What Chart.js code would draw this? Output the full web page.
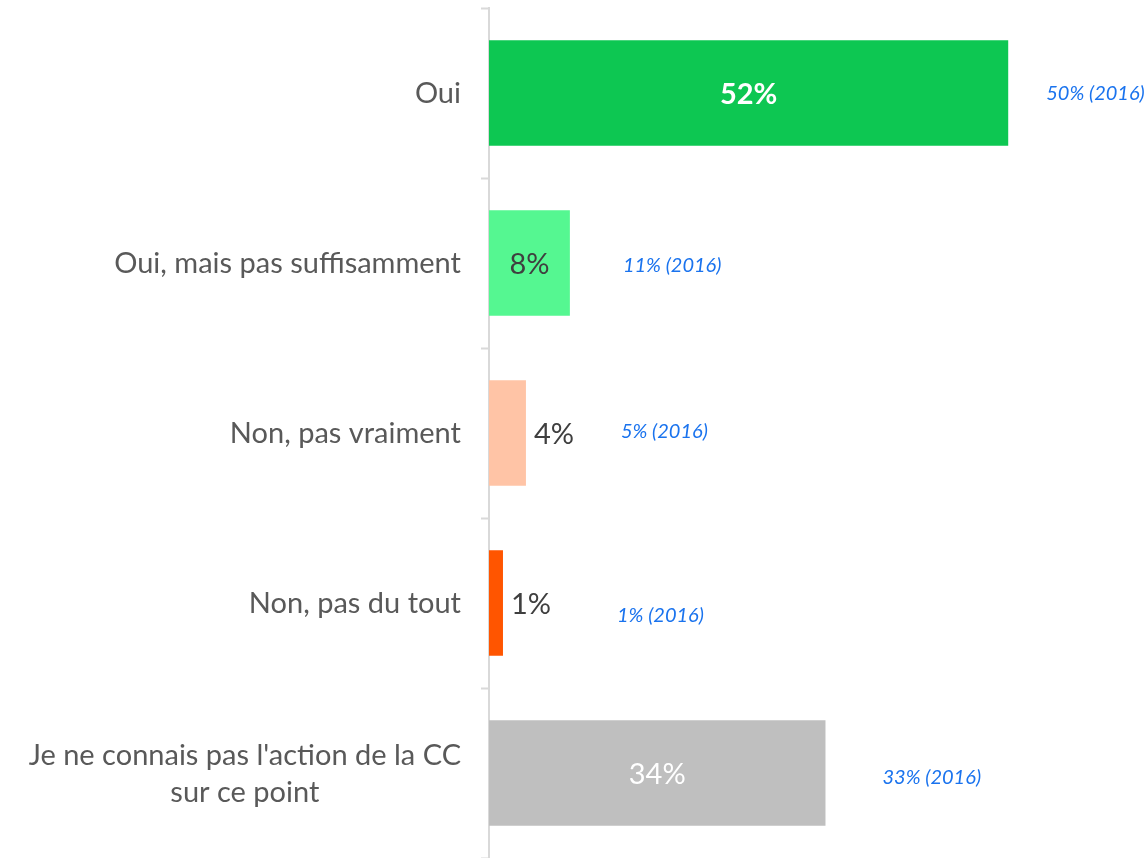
<!DOCTYPE html>
<html>
<head>
<meta charset="utf-8">
<script src="https://cdn.jsdelivr.net/npm/chart.js@4.4.1/dist/chart.umd.min.js"></script>
<style>
  html, body { margin: 0; padding: 0; background: #ffffff; }
  #wrap { width: 1148px; height: 858px; position: relative; }
</style>
</head>
<body>
<div id="wrap"><canvas id="myChart"></canvas></div>
<script>
// Données
const categories = [
  "Oui",
  "Oui, mais pas suffisamment",
  "Non, pas vraiment",
  "Non, pas du tout",
  ["Je ne connais pas l'action de la CC", "sur ce point"]
];
// longueurs des barres
const values = [52, 8.1, 3.7, 1.4, 33.7];
const valueLabels = ["52%", "8%", "4%", "1%", "34%"];
const previousLabels = ["50% (2016)", "11% (2016)", "5% (2016)", "1% (2016)", "33% (2016)"];

// Styles
const barColors = ["#0DC752", "#55F791", "#FFC4A6", "#FF5500", "#BFBFBF"];
const labelColors = ["#ffffff", "#3f3f3f", "#3f3f3f", "#3f3f3f", "#ffffff"];
const labelWeights = ["bold", "normal", "normal", "normal", "normal"];
const labelInside = [true, true, false, false, true];
// décalage des annotations 2016 par rapport au bout de la barre
const noteDx = [38, 53, 95, 114, 57];
const noteDy = [1, 3, -1, 13, 5];

// Plugin pour écrire les catégories, les valeurs et les annotations
const labelsPlugin = {
  id: 'labelsPlugin',
  afterDatasetsDraw(chart) {
    const ctx = chart.ctx;
    const yScale = chart.scales.y;
    const right = chart.chartArea.left - 28;

    // Libellés des catégories (lignes centrées entre elles, bloc aligné à droite)
    ctx.save();
    ctx.font = '29px Lato';
    ctx.fillStyle = '#595959';
    ctx.textBaseline = 'middle';
    categories.forEach((cat, i) => {
      const y = yScale.getPixelForTick(i) + 1;
      const lines = Array.isArray(cat) ? cat : [cat];
      const maxW = Math.max(...lines.map(l => ctx.measureText(l).width));
      const lh = 37;
      lines.forEach((line, j) => {
        const ly = y + (j - (lines.length - 1) / 2) * lh;
        if (lines.length > 1) {
          ctx.textAlign = 'center';
          ctx.fillText(line, right - maxW / 2, ly);
        } else {
          ctx.textAlign = 'right';
          ctx.fillText(line, right, ly);
        }
      });
    });
    ctx.restore();

    const meta = chart.getDatasetMeta(0);
    meta.data.forEach((bar, i) => {
      ctx.save();
      ctx.textBaseline = 'middle';
      ctx.font = labelWeights[i] + ' 29px Lato';
      ctx.fillStyle = labelColors[i];
      if (labelInside[i]) {
        ctx.textAlign = 'center';
        ctx.fillText(valueLabels[i], (bar.x + bar.base) / 2, bar.y + 2);
      } else {
        ctx.textAlign = 'left';
        ctx.fillText(valueLabels[i], bar.x + 8, bar.y + 2);
      }
      ctx.font = 'italic 20px Lato';
      ctx.fillStyle = '#1A73EE';
      ctx.textAlign = 'left';
      ctx.fillText(previousLabels[i], bar.x + noteDx[i], bar.y + noteDy[i]);
      ctx.restore();
    });
  }
};

let chart = null;

function createChart() {
  const ctx = document.getElementById('myChart').getContext('2d');
  if (chart) chart.destroy();

  chart = new Chart(ctx, {
    type: 'bar',
    data: {
      labels: categories,
      datasets: [{
        data: values,
        backgroundColor: barColors,
        borderWidth: 0,
        categoryPercentage: 1,
        barPercentage: 0.62
      }]
    },
    options: {
      indexAxis: 'y',
      responsive: true,
      maintainAspectRatio: false,
      animation: false,
      layout: { padding: { top: 8, bottom: 0, left: 0, right: 0 } },
      plugins: {
        legend: { display: false },
        tooltip: { enabled: false }
      },
      scales: {
        x: {
          display: false,
          min: 0,
          max: 66
        },
        y: {
          afterFit(scale) {
            scale.width = 489;
            scale.paddingTop = 0;
            scale.paddingBottom = 0;
          },
          border: { display: true, color: '#D9D9D9', width: 2 },
          grid: {
            offset: true,
            drawOnChartArea: false,
            drawTicks: true,
            tickLength: 8,
            tickWidth: 2,
            color: '#D9D9D9'
          },
          ticks: {
            // libellés dessinés par le plugin
            callback: () => '',
            padding: 19,
            font: { family: 'Lato', size: 29 }
          }
        }
      }
    },
    plugins: [labelsPlugin]
  });
}

document.addEventListener('DOMContentLoaded', createChart);
</script>
</body>
</html>
